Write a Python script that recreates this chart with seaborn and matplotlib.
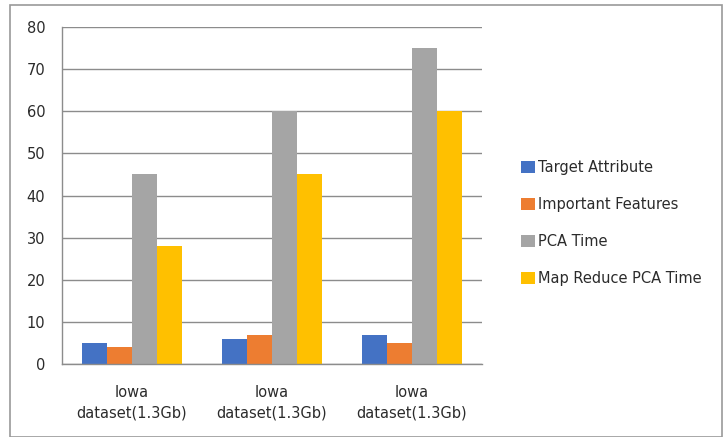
import matplotlib
matplotlib.use("Agg")
import matplotlib.pyplot as plt
import seaborn as sns
import pandas as pd
from matplotlib.patches import Rectangle

categories = ["Iowa\ndataset(1.3Gb)", "Iowa\ndataset(1.3Gb) ", "Iowa\ndataset(1.3Gb)  "]
series_names = ["Target Attribute", "Important Features", "PCA Time", "Map Reduce PCA Time"]
target_attribute = [5, 6, 7]
important_features = [4, 7, 5]
pca_time = [45, 60, 75]
map_reduce_pca_time = [28, 45, 60]
yticks = [0, 10, 20, 30, 40, 50, 60, 70, 80]
colors = ["#4472C4", "#ED7D31", "#A5A5A5", "#FFC000"]

rows = []
for name, vals in zip(series_names, [target_attribute, important_features, pca_time, map_reduce_pca_time]):
    for c, v in zip(categories, vals):
        rows.append({"cat": c, "series": name, "value": v})
df = pd.DataFrame(rows)

sns.set_style("white")
plt.rcParams['font.family'] = ['DejaVu Sans']

fig = plt.figure(figsize=(7.23, 4.37), dpi=100)
ax = fig.add_axes([62/723, 1 - 364/437, (482-62)/723, (364-27)/437])

sns.barplot(data=df, x="cat", y="value", hue="series", palette=colors,
            width=0.72, gap=0, ax=ax, saturation=1, legend=True,
            linewidth=0, edgecolor="none")

ax.set_ylim(0, 80)
ax.set_xlim(-0.5, 2.5)
ax.set_yticks(yticks)
ax.set_yticklabels([str(t) for t in yticks], fontsize=10.5, color="#2b2b2b")
ax.set_xlabel("")
ax.set_ylabel("")
ax.set_axisbelow(True)
ax.yaxis.grid(True, color="#8c8c8c", linewidth=1)
ax.set_xticks([0, 1, 2])
ax.set_xticklabels(["Iowa\ndataset(1.3Gb)"] * 3, fontsize=10.5, color="#2b2b2b", linespacing=1.5)
ax.tick_params(axis="x", length=0, pad=15)
ax.tick_params(axis="y", length=0, pad=12)
ax.set_xticks([-0.5, 0.5, 1.5, 2.5], minor=True)
ax.tick_params(axis="x", which="minor", length=5, color="#8c8c8c", direction="out")
for s in ["top", "right"]:
    ax.spines[s].set_visible(False)
for s in ["left", "bottom"]:
    ax.spines[s].set_color("#8c8c8c")
    ax.spines[s].set_linewidth(1)

leg = ax.legend(loc="center left", bbox_to_anchor=(508/723, 1 - 223/437),
                bbox_transform=fig.transFigure, frameon=False, fontsize=10.5,
                handlelength=0.95, handleheight=0.95, handletextpad=0.2, labelspacing=1.5)
for t in leg.get_texts():
    t.set_color("#2b2b2b")

fig.patches.append(Rectangle((10/723, 0), 712/723, 1 - 5/437, transform=fig.transFigure,
                             fill=False, edgecolor="#999999", linewidth=1.2))

fig.savefig("out.png", dpi=100)
